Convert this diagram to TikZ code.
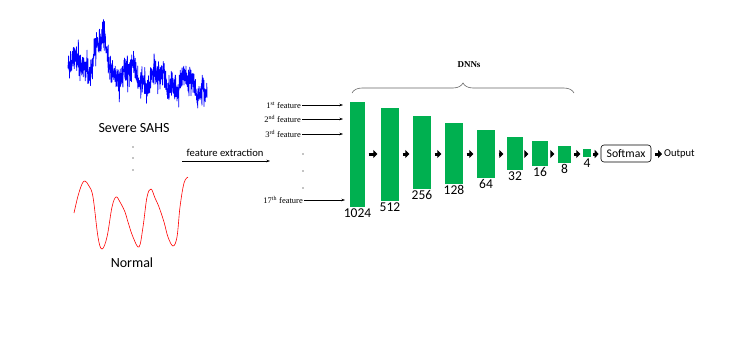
\documentclass[tikz,border=0pt]{standalone}
\usepackage{fontspec}
\setmainfont{Carlito}
\newfontfamily\tnr{Liberation Serif}
\usetikzlibrary{arrows.meta,decorations.pathreplacing}
\definecolor{boxgreen}{RGB}{0,176,80}
\tikzset{
  layer/.style={fill=boxgreen,draw=none,inner sep=0pt},
  numlab/.style={font=\fontsize{13.5}{14}\selectfont,anchor=north,inner sep=1pt},
  featlab/.style={font=\tnr\fontsize{8.5}{9}\selectfont,anchor=east,inner sep=1pt},
  featarrow/.style={line width=0.5pt,-{Stealth[length=3.5pt,width=2.5pt]}},
  blockarrow/.style={line width=3pt,-{Triangle[length=4pt,width=8pt]}},
  dotmark/.style={circle,fill=black,inner sep=0pt,minimum size=1.4pt},
}
\begin{document}
\begin{tikzpicture}[x=1pt,y=-1pt]
\useasboundingbox (0,0) rectangle (747,338);
% noisy signal
\pgfmathsetseed{4711}
\draw[blue,line width=0.75pt,line join=round] plot[domain=68:207,samples=900]
  (\x,{64+0.17*(\x-68)-27*exp(-((\x-100)/8)^2)+8*sin(13*\x)+5*sin(37*\x)+17*rand*abs(rand)+6*rand});
\node[font=\fontsize{14}{15}\selectfont] (sev) at (134,128) {Severe SAHS};
\node[dotmark] (ld1) at (133,147) {};
\node[dotmark] (ld2) at (133,158) {};
\node[dotmark] (ld3) at (133,170) {};
% normal signal
\draw[red,line width=0.6pt] plot[smooth,tension=0.6] coordinates {
 (74,213) (78,196) (82,184) (85,181) (89,186) (93,197) (98,237) (102,249)
 (107,237) (112,207) (116,197) (120,202) (125,212) (128,222) (133,237) (139,247)
 (143,227) (147,197) (151,189) (155,198) (159,207) (164,222) (168,237) (173,246)
 (177,237) (180,207) (184,183) (188,177)};
\node[font=\fontsize{14}{15}\selectfont] (nor) at (132,263) {Normal};
% feature extraction
\node[font=\fontsize{10.6}{11}\selectfont,inner sep=1pt] (fe) at (225,153) {feature extraction};
\coordinate (fes) at (182,161);
\coordinate (fee) at (270,161);
\draw[featarrow] (fes) -- (fee);
% features
\node[featlab] (f1) at (302,105) {1\textsuperscript{st} feature};
\node[featlab] (f2) at (302,119) {2\textsuperscript{nd} feature};
\node[featlab] (f3) at (302,134) {3\textsuperscript{rd} feature};
\node[featlab] (f17) at (304,200) {17\textsuperscript{th} feature};
\coordinate (e1) at (343,105);
\coordinate (e2) at (343,119);
\coordinate (e3) at (343,134);
\coordinate (e17) at (345,200);
\draw[featarrow] (f1.east) -- (e1);
\draw[featarrow] (f2.east) -- (e2);
\draw[featarrow] (f3.east) -- (e3);
\draw[featarrow] (f17.east) -- (e17);
\node[dotmark] (fd1) at (303,154) {};
\node[dotmark] (fd2) at (303,171) {};
\node[dotmark] (fd3) at (303,188) {};
% layers
\node[layer,minimum width=15pt,minimum height=105pt] (b1) at (357.5,154.5) {};
\node[layer,minimum width=18pt,minimum height=93pt] (b2) at (390,154.5) {};
\node[layer,minimum width=18pt,minimum height=73pt] (b3) at (422,152.5) {};
\node[layer,minimum width=18pt,minimum height=61pt] (b4) at (454,153.5) {};
\node[layer,minimum width=18pt,minimum height=48pt] (b5) at (486,154) {};
\node[layer,minimum width=16pt,minimum height=33pt] (b6) at (515,153.5) {};
\node[layer,minimum width=16pt,minimum height=25pt] (b7) at (540,153.5) {};
\node[layer,minimum width=13pt,minimum height=17pt] (b8) at (564.5,154.5) {};
\node[layer,minimum width=8pt,minimum height=8pt] (b9) at (587,153) {};
\node[numlab] at (b1.south) {1024};
\node[numlab] at (b2.south) {512};
\node[numlab] at (b3.south) {256};
\node[numlab] at (b4.south) {128};
\node[numlab] at (b5.south) {64};
\node[numlab] at (b6.south) {32};
\node[numlab] at (b7.south) {16};
\node[numlab] at (b8.south) {8};
\node[numlab] at (b9.south) {4};
\node[draw,rounded corners=3pt,line width=0.6pt,minimum width=50pt,minimum height=17pt,inner sep=1pt,
      font=\fontsize{11.7}{12}\selectfont] (sm) at (626,153.5) {Softmax};
\node[font=\fontsize{10.5}{11}\selectfont,anchor=west,inner sep=1pt] (out) at (663,154) {Output};
\foreach \a/\b in {b1/b2,b2/b3,b3/b4,b4/b5,b5/b6,b6/b7,b7/b8}
  \draw[blockarrow,shorten <=3.5pt,shorten >=3.5pt] (\a.east |- 0,154) -- (\b.west |- 0,154);
\draw[blockarrow,shorten <=3pt,shorten >=2.5pt] (b8.east |- 0,154) -- (b9.west |- 0,154);
\draw[blockarrow,shorten <=2pt,shorten >=2pt] (b9.east |- 0,154) -- (sm.west |- 0,154);
\draw[blockarrow,shorten <=3.5pt,shorten >=1pt] (sm.east |- 0,154) -- (out.west);
% brace
\coordinate (brl) at (352,93);
\coordinate (brr) at (574,93);
\draw[gray!80!black,line width=0.6pt,decorate,decoration={brace,amplitude=10pt}] (brl) -- (brr);
\node[font=\tnr\bfseries\fontsize{9}{10}\selectfont] (dnn) at (469,65) {DNNs};
\end{tikzpicture}
\end{document}
